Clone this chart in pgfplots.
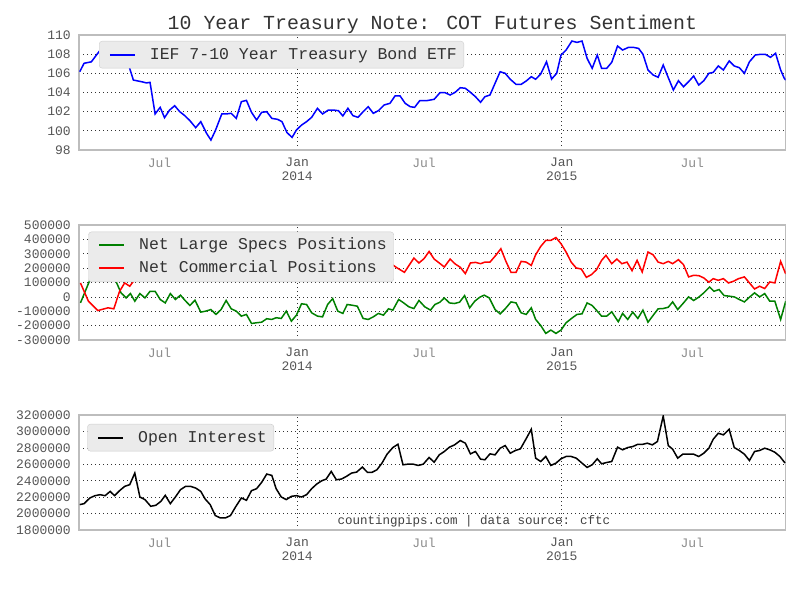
\documentclass[border=0pt]{standalone}
\usepackage{fontspec}
\setmainfont{Liberation Mono}
\usepackage{pgfplots}
\pgfplotsset{compat=1.18}

\definecolor{tickgray}{HTML}{555555}
\definecolor{julgray}{HTML}{8C8C8C}
\definecolor{framegray}{HTML}{BDBDBD}
\definecolor{leggray}{HTML}{EBEBEB}
\definecolor{legframe}{HTML}{CCCCCC}
\definecolor{specgreen}{HTML}{008000}

% days counted from 1 Jan 2014
\pgfplotsset{
  cotpanel/.style={
    scale only axis, width=706.7pt, height=115pt,
    xmin=-301, xmax=674,
    axis line style={framegray, line width=1.2pt},
    major tick length=0pt, minor tick length=0pt,
    xtick={0,365}, xticklabels={Jan\\2014,Jan\\2015},
    extra x ticks={-190,175,545}, extra x tick labels={Jul,Jul,Jul},
    extra x tick style={grid=none, tick label style={text=julgray}},
    xmajorgrids, ymajorgrids,
    grid style={black!80, line width=0.7pt, dash pattern=on 1pt off 3pt},
    tick label style={font=\fontsize{13}{14}\selectfont, text=tickgray},
    xticklabel style={align=center, inner sep=0pt, yshift=-8pt},
    yticklabel style={inner xsep=0pt, xshift=-8pt},
    /pgf/number format/assume math mode=true,
    scaled y ticks=false,
    legend cell align=left,
    legend style={draw=legframe, fill=leggray, rounded corners=3pt,
      font=\fontsize{16.5}{18}\selectfont, text=black!80, anchor=north west,
      inner xsep=7pt, inner ysep=4.5pt, row sep=5pt,
      nodes={inner xsep=0pt, inner ysep=0pt, text height=13.5pt, text depth=4.5pt},
      /tikz/every odd column/.append style={column sep=14pt}},
    legend image code/.code={\path (0pt,0pt); \draw[##1, line width=1.8pt] (3pt,0pt) -- (28pt,0pt);},
    every axis plot/.append style={line width=1.5pt, mark=none},
  }
}

\begin{document}
\begin{tikzpicture}
\path[use as bounding box] (0pt,0pt) rectangle (800pt,-600pt);

% ---- IEF price
\begin{axis}[cotpanel, at={(79pt,-150pt)}, anchor=south west,
    ymin=98, ymax=110, ytick={98,100,...,110},
    legend style={at={(0.0283,0.948)}}]
\addplot[blue] coordinates {
(-300,106.17) (-294,107.05) (-284,107.2) (-277,107.9) (-270,108.6) (-264,109.0)
(-257,108.8) (-250,109.1) (-243,108.5) (-236,107.8) (-231,106.5) (-226,105.3)
(-215,105.13) (-208,105.0) (-203,105.06) (-196,101.76) (-189,102.45) (-183,101.37)
(-176,102.17) (-169,102.62) (-162,102.0) (-155,101.58) (-148,101.06) (-140,100.33)
(-133,100.96) (-125,99.74) (-119,99.04) (-113,100.0) (-104,101.76) (-98,101.76)
(-91,101.83) (-84,101.3) (-77,103.04) (-70,103.18) (-63,101.93) (-56,101.13)
(-49,101.93) (-42,102.0) (-35,101.3) (-27,101.2) (-21,100.96) (-14,99.81)
(-7,99.32) (-1,100.09) (6,100.6) (13,100.96) (20,101.41) (28,102.35)
(35,101.76) (43,102.17) (50,102.17) (57,102.1) (63,101.55) (70,102.35)
(77,101.58) (84,101.41) (91,102.0) (98,102.52) (105,101.83) (112,102.1)
(120,102.7) (128,102.87) (135,103.64) (142,103.64) (149,102.87) (156,102.52)
(162,102.45) (169,103.14) (178,103.14) (189,103.29) (197,103.98) (204,103.98)
(211,103.74) (218,104.02) (225,104.5) (232,104.44) (239,104.02) (246,103.56)
(253,102.98) (259,103.56) (266,103.74) (273,104.96) (280,106.17) (287,106.0)
(294,105.38) (302,104.85) (309,104.85) (316,105.2) (323,105.65) (329,105.38)
(336,105.93) (344,107.21) (351,105.4) (358,106.0) (364,107.91) (371,108.43)
(379,109.37) (386,109.23) (393,109.37) (400,107.56) (407,106.52) (414,107.91)
(420,106.52) (427,106.52) (434,107.15) (442,108.85) (449,108.43) (457,108.71)
(464,108.71) (471,108.6) (477,108.0) (484,106.35) (491,105.83) (498,105.59)
(505,106.87) (512,105.55) (519,104.26) (526,105.23) (533,104.6) (540,105.13)
(547,105.72) (554,104.78) (561,105.23) (568,106.0) (574,106.1) (581,106.77)
(588,106.35) (596,107.29) (603,106.77) (610,106.59) (617,106.0) (624,107.21)
(632,107.91) (639,107.98) (646,107.98) (653,107.67) (660,108.09) (667,106.35)
(672,105.48) (674,105.3)
};
\legend{IEF 7-10 Year Treasury Bond ETF}
\end{axis}

% ---- net positions
\begin{axis}[cotpanel, at={(79pt,-340pt)}, anchor=south west,
    ymin=-300000, ymax=500000,
    ytick={-300000,-200000,-100000,0,100000,200000,300000,400000,500000},
    yticklabels={-300000,-200000,-100000,0,100000,200000,300000,400000,500000},
    legend style={at={(0.0132,0.942)}}]
\addplot[specgreen] coordinates {
(-299,-42000) (-286,117000) (-279,160000) (-272,220000) (-265,250000) (-258,200000)
(-250,108000) (-243,28000) (-236,-7000) (-230,23000) (-224,-30000) (-217,23000)
(-210,-7000) (-203,39000) (-196,39000) (-189,-18000) (-182,-42000) (-175,23000)
(-168,-18000) (-161,12000) (-155,-23000) (-148,-60000) (-141,-23000) (-133,-106000)
(-126,-99000) (-119,-88000) (-112,-122000) (-105,-88000) (-98,-25000) (-91,-83000)
(-84,-99000) (-77,-134000) (-70,-122000) (-63,-185000) (-56,-180000) (-49,-176000)
(-42,-152000) (-35,-157000) (-29,-145000) (-22,-150000) (-15,-99000) (-8,-169000)
(-1,-127000) (6,-48000) (13,-53000) (20,-111000) (28,-134000) (35,-139000)
(42,-53000) (49,-12000) (56,-99000) (63,-115000) (69,-53000) (76,-58000)
(83,-65000) (91,-150000) (98,-157000) (105,-139000) (112,-115000) (119,-127000)
(126,-83000) (132,-92000) (140,-18000) (147,-42000) (154,-69000) (161,-81000)
(168,-25000) (176,-69000) (184,-92000) (190,-53000) (197,-37000) (203,-7000)
(210,-42000) (217,-46000) (224,-37000) (231,9000) (238,-76000) (245,-30000)
(252,-2000) (258,12000) (265,-7000) (273,-88000) (280,-118000) (287,-83000)
(295,-35000) (302,-42000) (309,-111000) (316,-122000) (323,-76000) (329,-157000)
(336,-199000) (343,-254000) (350,-231000) (357,-254000) (364,-231000) (371,-180000)
(378,-152000) (386,-122000) (393,-118000) (400,-42000) (407,-60000) (414,-99000)
(420,-134000) (427,-134000) (434,-104000) (443,-173000) (449,-115000) (456,-157000)
(463,-106000) (470,-150000) (477,-92000) (484,-176000) (491,-129000) (498,-83000)
(505,-81000) (512,-72000) (518,-35000) (525,-88000) (533,-42000) (540,0)
(547,-25000) (554,-2000) (561,28000) (569,69000) (575,39000) (582,51000)
(589,9000) (596,5000) (603,0) (610,-18000) (617,-35000) (624,-2000)
(631,28000) (638,0) (645,23000) (652,-30000) (659,-30000) (667,-157000)
(674,-30000)
};
\addplot[red] coordinates {
(-299,97000) (-288,-30000) (-275,-95000) (-261,-76000) (-253,-83000) (-245,39000)
(-238,97000) (-231,74000) (-226,108000) (-217,150000) (-210,137000) (-203,130000)
(-196,130000) (-189,148000) (-182,172000) (-175,130000) (-168,148000) (-161,130000)
(-155,153000) (-148,190000) (-141,153000) (-133,236000) (-126,229000) (-119,218000)
(-112,252000) (-105,218000) (-98,155000) (-91,213000) (-84,229000) (-77,264000)
(-70,252000) (-63,315000) (-56,310000) (-49,306000) (-42,282000) (-35,287000)
(-29,275000) (-22,280000) (-15,229000) (-8,299000) (-1,257000) (6,178000)
(13,183000) (20,241000) (28,264000) (35,269000) (42,183000) (49,142000)
(56,229000) (63,245000) (69,183000) (76,188000) (83,195000) (91,280000)
(98,287000) (105,269000) (112,245000) (119,257000) (126,213000) (132,222000)
(138,201000) (148,171000) (155,224000) (161,270000) (168,236000) (175,266000)
(182,316000) (189,263000) (196,236000) (203,208000) (211,263000) (218,229000)
(225,206000) (232,162000) (239,236000) (246,240000) (253,231000) (259,242000)
(266,242000) (274,289000) (281,335000) (288,247000) (295,171000) (302,171000)
(309,247000) (316,242000) (323,219000) (329,293000) (336,351000) (343,393000)
(350,393000) (357,413000) (364,370000) (371,312000) (378,242000) (385,201000)
(392,194000) (399,136000) (406,155000) (413,189000) (420,254000) (426,289000)
(434,231000) (441,263000) (448,231000) (455,242000) (462,182000) (469,254000)
(476,173000) (484,312000) (491,293000) (498,242000) (505,231000) (512,247000)
(518,231000) (526,259000) (533,224000) (540,139000) (547,150000) (554,148000)
(561,132000) (568,102000) (574,127000) (581,115000) (588,127000) (595,97000)
(602,109000) (609,127000) (617,139000) (624,97000) (631,55000) (638,74000)
(645,58000) (652,104000) (659,97000) (667,247000) (674,160000)
};
\legend{Net Large Specs Positions, Net Commercial Positions}
\end{axis}

% ---- open interest
\begin{axis}[cotpanel, at={(79pt,-530pt)}, anchor=south west,
    ymin=1800000, ymax=3200000,
    ytick={1800000,2000000,2200000,2400000,2600000,2800000,3000000,3200000},
    yticklabels={1800000,2000000,2200000,2400000,2600000,2800000,3000000,3200000},
    legend style={at={(0.0117,0.922)}}]
\addplot[black] coordinates {
(-300,2109000) (-294,2121000) (-286,2190000) (-279,2218000) (-272,2230000) (-265,2218000)
(-258,2270000) (-252,2218000) (-245,2279000) (-238,2331000) (-231,2352000) (-224,2493000)
(-217,2202000) (-210,2170000) (-202,2089000) (-195,2101000) (-188,2149000) (-182,2222000)
(-175,2121000) (-168,2202000) (-161,2291000) (-154,2331000) (-147,2331000) (-140,2311000)
(-133,2270000) (-127,2178000) (-120,2109000) (-113,1976000) (-106,1947000) (-99,1947000)
(-92,1976000) (-85,2081000) (-77,2190000) (-70,2162000) (-63,2279000) (-56,2303000)
(-49,2380000) (-42,2481000) (-35,2465000) (-29,2303000) (-22,2202000) (-15,2170000)
(-8,2210000) (-1,2218000) (6,2202000) (13,2230000) (20,2303000) (27,2360000)
(34,2400000) (40,2420000) (47,2513000) (54,2412000) (61,2420000) (68,2453000)
(75,2493000) (82,2505000) (90,2566000) (97,2501000) (103,2501000) (110,2533000)
(117,2614000) (124,2723000) (132,2804000) (139,2844000) (146,2594000) (153,2602000)
(160,2602000) (167,2586000) (174,2602000) (182,2683000) (189,2626000) (196,2715000)
(203,2756000) (210,2808000) (217,2836000) (225,2889000) (232,2857000) (239,2727000)
(246,2756000) (253,2663000) (259,2655000) (266,2727000) (273,2715000) (280,2796000)
(287,2828000) (294,2735000) (301,2768000) (308,2788000) (315,2897000) (323,3026000)
(329,2675000) (336,2634000) (343,2695000) (350,2586000) (357,2614000) (364,2667000)
(371,2695000) (378,2695000) (385,2675000) (393,2614000) (400,2562000) (407,2594000)
(414,2667000) (420,2606000) (427,2622000) (434,2634000) (442,2808000) (449,2776000)
(456,2804000) (463,2816000) (470,2844000) (477,2844000) (483,2857000) (490,2836000)
(497,2877000) (505,3188000) (512,2828000) (518,2784000) (525,2675000) (532,2723000)
(539,2723000) (547,2723000) (554,2695000) (561,2735000) (568,2796000) (574,2905000)
(581,2978000) (588,2958000) (596,3026000) (603,2804000) (610,2768000) (617,2723000)
(624,2646000) (631,2756000) (638,2768000) (645,2796000) (652,2776000) (659,2747000)
(666,2695000) (673,2616000)
};
\legend{Open Interest}
\end{axis}

\node[anchor=base, font=\fontsize{19.9}{22}\selectfont, text=black!80]
  at (432.4pt,-29.3pt) {10 Year Treasury Note: COT Futures Sentiment};
\node[anchor=base, font=\fontsize{12.5}{14}\selectfont, text=black!75]
  at (473.8pt,-524pt) {countingpips.com | data source: cftc};
\end{tikzpicture}
\end{document}
